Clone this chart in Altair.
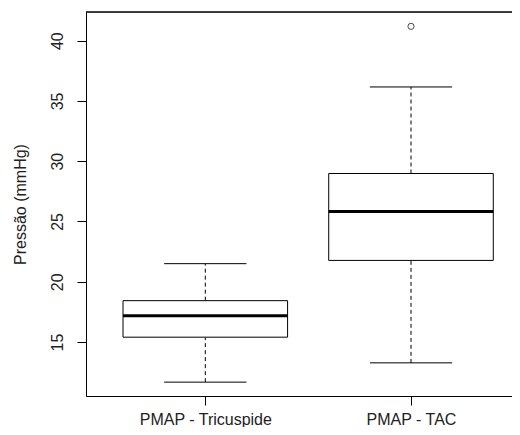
import altair as alt
import pandas as pd

categories = ["PMAP - Tricuspide", "PMAP - TAC"]
positions = [1, 2]
whisker_low = [11.67, 13.27]
q1 = [15.4, 21.77]
median = [17.17, 25.83]
q3 = [18.43, 28.98]
whisker_high = [21.5, 36.16]
outlier_pos = [2]
outlier_val = [41.19]

y_ticks = [15, 20, 25, 30, 35, 40]
y_domain = [10.52, 42.38]
x_domain = [0.42, 2.491]

W, H = 426, 384
FONT = "Liberation Sans"
TXT = "#222"

df = pd.DataFrame({
    "cat": categories, "pos": positions, "lo": whisker_low, "q1": q1,
    "med": median, "q3": q3, "hi": whisker_high,
})
out_df = pd.DataFrame({"pos": outlier_pos, "val": outlier_val})

label_expr = " : ".join(
    f"datum.value == {p} ? '{c}'" for p, c in zip(positions, categories)
) + " : ''"

xscale = alt.Scale(domain=x_domain, nice=False, zero=False)
yscale = alt.Scale(domain=y_domain, nice=False, zero=False)

x_axis = alt.Axis(values=positions, labelExpr=label_expr, title=None, grid=False,
                  domainColor="black", tickColor="black", tickSize=9,
                  labelFont=FONT, labelFontSize=16, labelColor=TXT,
                  labelBaseline="alphabetic", labelPadding=19, domainWidth=1)
y_axis = alt.Axis(values=y_ticks, title="Pressão (mmHg)", grid=False,
                  domainColor="black", tickColor="black", tickSize=9,
                  labelFont=FONT, labelFontSize=16, labelColor=TXT,
                  labelAngle=270, labelAlign="center", labelBaseline="alphabetic",
                  labelPadding=15,
                  titleFont=FONT, titleFontSize=16, titleColor=TXT,
                  titleFontWeight="normal", titleAngle=270, titleAlign="center",
                  titleBaseline="alphabetic", titleX=-61, titleY=H / 2,
                  domainWidth=1)

base = alt.Chart(df).transform_calculate(
    bl="datum.pos - 0.4", br="datum.pos + 0.4",
    cl="datum.pos - 0.2", cr="datum.pos + 0.2",
)

whisk_up = base.mark_rule(color="black", strokeDash=[4, 3], strokeWidth=1).encode(
    x=alt.X("pos:Q", scale=xscale, axis=x_axis),
    y=alt.Y("q3:Q", scale=yscale, axis=y_axis),
    y2="hi:Q",
)
whisk_dn = base.mark_rule(color="black", strokeDash=[4, 3], strokeWidth=1).encode(
    x=alt.X("pos:Q", scale=xscale), y=alt.Y("lo:Q", scale=yscale), y2="q1:Q",
)
cap_hi = base.mark_rule(color="black", strokeWidth=1).encode(
    x=alt.X("cl:Q", scale=xscale), x2="cr:Q", y=alt.Y("hi:Q", scale=yscale),
)
cap_lo = base.mark_rule(color="black", strokeWidth=1).encode(
    x=alt.X("cl:Q", scale=xscale), x2="cr:Q", y=alt.Y("lo:Q", scale=yscale),
)
box = base.mark_rect(fill="white", stroke="black", strokeWidth=1).encode(
    x=alt.X("bl:Q", scale=xscale), x2="br:Q",
    y=alt.Y("q1:Q", scale=yscale), y2="q3:Q",
)
med = base.mark_rule(color="black", strokeWidth=3).encode(
    x=alt.X("bl:Q", scale=xscale), x2="br:Q", y=alt.Y("med:Q", scale=yscale),
)
outl = alt.Chart(out_df).mark_point(shape="circle", filled=False, color="black",
                                    size=38, strokeWidth=1).encode(
    x=alt.X("pos:Q", scale=xscale), y=alt.Y("val:Q", scale=yscale),
)
top = alt.Chart(df).mark_rule(color="black", strokeWidth=1).encode(
    x=alt.value(0), x2=alt.value(W), y=alt.value(0),
)

chart = alt.layer(whisk_up, whisk_dn, cap_hi, cap_lo, box, med, outl, top).properties(
    width=W, height=H,
    autosize=alt.AutoSizeParams(type="none"),
    padding={"left": 78, "top": 4, "right": 0, "bottom": 31},
).configure_view(stroke=None).configure(background="white")

chart.save("out.html", embed_options={"renderer": "svg", "actions": False})
